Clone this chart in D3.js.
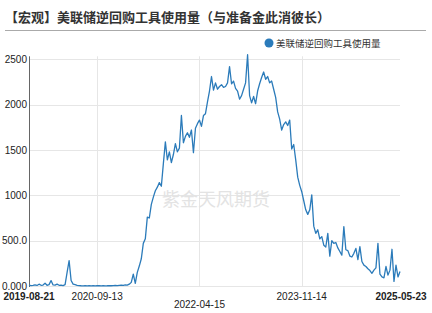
<!DOCTYPE html>
<html>
<head>
<meta charset="utf-8">
<script src="https://cdn.jsdelivr.net/npm/d3@7"></script>
<style>
  body { margin: 0; background: #fff; }
  text { font-family: "Liberation Sans", Arial, "Noto Sans CJK SC", sans-serif; }
</style>
</head>
<body>
<script>
var title = "【宏观】美联储逆回购工具使用量（与准备金此消彼长）";
var seriesName = "美联储逆回购工具使用量";

// daily usage (one point every ~2px)
var rrpValues = [
  10,5,8,12,6,20,8,10,30,8,15,60,12,10,20,8,10,5,15,150,280,60,20,15,8,5,
  3,2,4,2,3,2,3,2,4,3,2,3,2,3,5,3,4,6,5,8,10,6,12,10,20,
  40,130,30,150,220,300,470,520,760,750,900,980,1050,1090,1140,1100,1350,1590,1390,1480,
  1360,1450,1570,1480,1520,1880,1580,1650,1690,1640,1720,1470,1740,1790,1830,1760,1880,1900,2030,2150,
  2310,2160,2240,2170,2200,2220,2190,2200,2240,2420,2230,2260,2180,2150,2060,2100,2170,2240,2550,2100,
  2020,2090,2010,2150,2230,2300,2360,2280,2310,2240,2260,2170,2080,1920,1840,1720,1780,1810,1770,1830,
  1510,1560,1390,1200,1110,1040,940,840,790,840,1005,660,580,620,520,545,450,430,580,330,
  500,470,480,420,380,340,655,400,390,330,320,360,415,290,435,270,230,215,190,170,
  140,175,200,470,130,100,90,215,120,175,405,50,230,100,160
];

var tickIndex = [0, 34, 85, 136, rrpValues.length - 1];
var tickLabels = ["2019-08-21", "2020-09-13", "2022-04-15", "2023-11-14", "2025-05-23"];
var yTicks = [0, 500, 1000, 1500, 2000, 2500];

var W = 432, H = 313;
var plotLeft = 29, plotRight = 400, plotTop = 59.3, plotBottom = 286;
var lineColor = "#2b7bba";

var svg = d3.select("body")
  .append("svg")
  .attr("width", W)
  .attr("height", H);

var x = d3.scaleLinear().domain([0, rrpValues.length - 1]).range([plotLeft, plotRight]);
var y = d3.scaleLinear().domain([0, 2500]).range([plotBottom, plotTop]);

// title + rule
svg.append("text")
  .attr("x", 5).attr("y", 22)
  .attr("font-size", 13).attr("font-weight", "bold")
  .attr("fill", "#333")
  .style("font-family", "'Noto Sans CJK SC', sans-serif")
  .text(title);

svg.append("line")
  .attr("x1", 5).attr("x2", 426)
  .attr("y1", 30.5).attr("y2", 30.5)
  .attr("stroke", "#aaa").attr("stroke-width", 1);

// legend
svg.append("circle")
  .attr("cx", 269).attr("cy", 43).attr("r", 4.5)
  .attr("fill", lineColor);
svg.append("text")
  .attr("x", 276).attr("y", 46.5)
  .attr("font-size", 9.5).attr("fill", "#333")
  .style("font-family", "'Noto Sans CJK SC', sans-serif")
  .text(seriesName);

// grid
svg.append("g").selectAll("line")
  .data(yTicks)
  .enter().append("line")
  .attr("x1", plotLeft).attr("x2", plotRight)
  .attr("y1", function(d) { return Math.round(y(d)) + 0.5; })
  .attr("y2", function(d) { return Math.round(y(d)) + 0.5; })
  .attr("stroke", "#e6e6e6");

svg.append("g").selectAll("line")
  .data(tickIndex.slice(1, 4))
  .enter().append("line")
  .attr("x1", function(d) { return Math.round(x(d)) + 0.5; })
  .attr("x2", function(d) { return Math.round(x(d)) + 0.5; })
  .attr("y1", plotTop - 3).attr("y2", plotBottom)
  .attr("stroke", "#e6e6e6");

// watermark
svg.append("text")
  .attr("x", 216).attr("y", 206)
  .attr("text-anchor", "middle")
  .attr("font-size", 18)
  .attr("fill", "#e3e3e3")
  .style("font-family", "'Noto Sans CJK SC', sans-serif")
  .text("紫金天风期货");

// y axis
var yAxis = d3.axisLeft(y)
  .tickValues(yTicks)
  .tickSize(0)
  .tickPadding(2)
  .tickFormat(function(d) {
    if (d === 0) return "0.000";
    if (d === 500) return "500.0";
    return String(d);
  });

var gy = svg.append("g")
  .attr("transform", "translate(" + plotLeft + ",0)")
  .call(yAxis);
gy.select(".domain").remove();
gy.selectAll("text").attr("font-size", 10).attr("fill", "#222")
  .style("font-family", "'Liberation Sans', Arial, sans-serif");
svg.append("line")
  .attr("x1", plotLeft + 0.5).attr("x2", plotLeft + 0.5)
  .attr("y1", plotTop - 3).attr("y2", plotBottom + 1)
  .attr("stroke", "#666").attr("stroke-width", 1);

// x labels (staggered like the original)
svg.append("g").selectAll("text")
  .data(tickIndex)
  .enter().append("text")
  .attr("x", function(d, i) { return i === tickIndex.length - 1 ? x(d) + 1 : x(d); })
  .attr("y", function(d, i) { return i === 2 ? 308 : 299.5; })
  .attr("text-anchor", "middle")
  .attr("font-size", 10)
  .attr("font-weight", function(d, i) { return (i === 0 || i === tickIndex.length - 1) ? "bold" : "normal"; })
  .attr("fill", "#222")
  .text(function(d, i) { return tickLabels[i]; });

// line
var line = d3.line()
  .x(function(d, i) { return x(i); })
  .y(function(d) { return y(d); });

svg.append("path")
  .datum(rrpValues)
  .attr("d", line)
  .attr("fill", "none")
  .attr("stroke", lineColor)
  .attr("stroke-width", 1.3)
  .attr("stroke-linejoin", "round");
</script>
</body>
</html>
